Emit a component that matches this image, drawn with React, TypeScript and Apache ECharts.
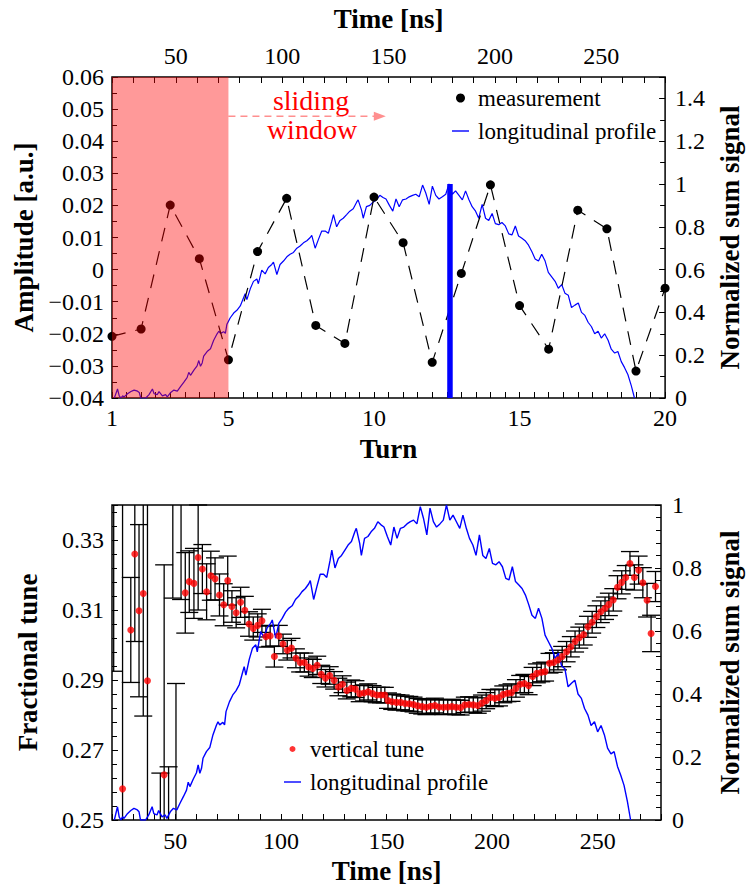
import React, { useEffect, useRef } from 'react';
import * as echarts from 'echarts';

// ---------- top panel data ----------
const TURNS = [1, 2, 3, 4, 5, 6, 7, 8, 9, 10, 11, 12, 13, 14, 15, 16, 17, 18, 19, 20];
const AMPLITUDE = [
  -0.0208, -0.0185, 0.0201, 0.0034, -0.0281, 0.0056, 0.0222, -0.0174, -0.023, 0.0226,
  0.0084, -0.0289, -0.0012, 0.0264, -0.0112, -0.0248, 0.0185, 0.0127, -0.0316, -0.0058,
];
const TURN_LABELS = [1, 5, 10, 15, 20];
const WINDOW_TURNS = [1, 5];
const WINDOW_CENTER_TURN = 12.61;
const WINDOW_CENTER_HEIGHT = 1;
const ARROW_TURNS = [5, 10.2];
const ARROW_AMPLITUDE = 0.0478;

// ---------- longitudinal profile (time [ns], normalized sum signal) ----------
const PROFILE = [
  [21.1, 0], [22.6, 0.042], [23.4, 0.01], [24.2, 0], [25.0, 0.01], [25.7, 0.005], [27.3, 0.02],
  [28.9, 0.03], [30.4, 0.037], [32.0, 0.032], [32.8, 0.026], [33.5, 0], [35.9, 0], [37.4, 0.016],
  [39.0, 0.042], [39.8, 0.02], [41.3, 0.016], [42.1, 0.03], [43.7, 0.01], [45.2, 0.016], [46.0, 0.005],
  [47.6, 0.026], [49.1, 0.037], [50.7, 0.032], [52.2, 0.053], [53.8, 0.074], [55.3, 0.095], [56.1, 0.12],
  [56.9, 0.106], [58.5, 0.13], [60.0, 0.15], [60.8, 0.175], [61.6, 0.148], [62.4, 0.164], [63.1, 0.196],
  [64.7, 0.217], [66.3, 0.23], [67.8, 0.27], [69.4, 0.3], [70.2, 0.312], [71.0, 0.302], [72.5, 0.31],
  [73.3, 0.302], [74.0, 0.344], [75.6, 0.375], [77.2, 0.397], [78.7, 0.41], [80.3, 0.43], [81.9, 0.47],
  [82.6, 0.487], [83.4, 0.46], [85.0, 0.51], [86.5, 0.545], [88.1, 0.556], [88.8, 0.534], [90.4, 0.598],
  [92.0, 0.58], [93.5, 0.61], [95.1, 0.624], [95.9, 0.635], [97.5, 0.577], [99.0, 0.624], [100.6, 0.64],
  [102.2, 0.66], [103.7, 0.672], [105.3, 0.68], [106.9, 0.7], [108.4, 0.71], [110.0, 0.725], [111.6, 0.735],
  [113.2, 0.75], [113.9, 0.76], [115.5, 0.7], [117.0, 0.74], [118.6, 0.78], [120.2, 0.78], [121.7, 0.77],
  [123.3, 0.825], [124.1, 0.857], [125.6, 0.8], [127.2, 0.83], [128.7, 0.84], [130.3, 0.857], [131.8, 0.873],
  [133.4, 0.884], [135.0, 0.915], [135.7, 0.926], [137.3, 0.878], [138.1, 0.84], [139.6, 0.894], [141.2, 0.9],
  [142.7, 0.915], [144.3, 0.926], [145.9, 0.947], [147.4, 0.937], [148.8, 0.93], [150.4, 0.9], [152.0, 0.873],
  [153.5, 0.93], [155.0, 0.894], [156.6, 0.926], [158.2, 0.93], [159.7, 0.94], [161.3, 0.947], [162.8, 0.952],
  [164.4, 0.94], [166.0, 0.995], [167.5, 0.958], [169.1, 0.905], [170.6, 0.99], [172.2, 0.947], [173.7, 0.93],
  [175.3, 0.94], [176.9, 0.952], [178.4, 1.0], [180.0, 0.952], [181.5, 0.968], [183.1, 0.947], [184.7, 0.926],
  [186.2, 0.968], [187.8, 0.926], [189.3, 0.894], [190.9, 0.873], [192.4, 0.84], [194.0, 0.905], [195.6, 0.84],
  [197.1, 0.83], [198.7, 0.862], [200.2, 0.815], [201.8, 0.81], [203.3, 0.82], [204.9, 0.804], [206.5, 0.767],
  [208.0, 0.762], [209.6, 0.804], [211.1, 0.757], [212.7, 0.746], [214.2, 0.735], [215.8, 0.714], [217.4, 0.683],
  [218.9, 0.65], [220.5, 0.64], [222.0, 0.672], [223.6, 0.64], [225.1, 0.587], [226.7, 0.566], [228.3, 0.545],
  [229.8, 0.513], [231.4, 0.53], [232.9, 0.49], [234.5, 0.48], [236.0, 0.423], [237.6, 0.434], [239.2, 0.444],
  [240.7, 0.4], [242.3, 0.386], [243.8, 0.354], [245.4, 0.333], [246.9, 0.3], [248.5, 0.312], [250.0, 0.28],
  [251.6, 0.3], [253.2, 0.27], [254.7, 0.228], [256.3, 0.21], [257.8, 0.217], [259.4, 0.17], [260.9, 0.143],
  [262.5, 0.11], [264.1, 0.058], [265.6, 0],
];

// ---------- vertical tune (time [ns], tune, error) ----------
const TUNE = [
  [20.8, 0.345, 0.0525], [25.0, 0.2589, 0.09], [28.9, 0.3043, 0.015], [30.8, 0.326, 0.025],
  [32.8, 0.3098, 0.0246], [34.8, 0.3147, 0.035], [36.8, 0.2898, 0.07], [42.9, 0.245, 0.0184],
  [44.7, 0.2629, 0.06], [46.8, 0.245, 0.0202], [48.8, 0.36, 0.0466], [50.3, 0.24, 0.049],
  [52.7, 0.36, 0.047],
  [54.7, 0.3149, 0.0115], [56.6, 0.3181, 0.0088], [58.8, 0.3176, 0.01], [60.8, 0.325, 0.015],
  [62.8, 0.3217, 0.007], [64.8, 0.3152, 0.008], [66.8, 0.3198, 0.007], [68.8, 0.3189, 0.006],
  [70.9, 0.3143, 0.006], [72.9, 0.3115, 0.006], [74.8, 0.3184, 0.007], [76.8, 0.311, 0.0045],
  [78.8, 0.3092, 0.0043], [80.9, 0.3122, 0.0043], [82.9, 0.3099, 0.004], [84.9, 0.306, 0.0035],
  [86.9, 0.3047, 0.0033], [89.0, 0.3056, 0.0033], [91.0, 0.3069, 0.0033], [92.9, 0.3024, 0.003],
  [94.9, 0.3026, 0.003], [96.9, 0.2967, 0.003], [99.0, 0.3026, 0.003], [101.0, 0.3003, 0.0028],
  [103.0, 0.2985, 0.0028], [105.0, 0.2991, 0.0028], [107.1, 0.2962, 0.0027], [109.1, 0.295, 0.0027],
  [111.1, 0.295, 0.0027], [113.1, 0.2937, 0.0026], [115.1, 0.2933, 0.0026], [117.2, 0.2942, 0.0026],
  [119.1, 0.2916, 0.0026], [121.1, 0.2905, 0.0025], [123.1, 0.2913, 0.0025], [125.2, 0.2899, 0.0025],
  [127.2, 0.288, 0.0025], [129.2, 0.2888, 0.0024], [131.2, 0.287, 0.0024], [133.3, 0.2876, 0.0024],
  [135.3, 0.2874, 0.0024], [137.3, 0.2861, 0.0023], [139.3, 0.2863, 0.0023], [141.3, 0.2866, 0.0023],
  [143.4, 0.2861, 0.0023], [145.4, 0.2857, 0.0022], [147.4, 0.2857, 0.0022], [149.2, 0.2857, 0.0022],
  [150.7, 0.2841, 0.0022], [152.7, 0.2838, 0.0022], [154.7, 0.2836, 0.0022], [156.7, 0.2836, 0.0021],
  [158.8, 0.2833, 0.0021], [160.8, 0.2832, 0.0021], [162.8, 0.283, 0.0021], [164.8, 0.2826, 0.0021],
  [166.9, 0.2824, 0.0021], [168.9, 0.2822, 0.0021], [170.9, 0.2825, 0.0021], [172.9, 0.2827, 0.0021],
  [174.9, 0.2823, 0.0021], [177.0, 0.2822, 0.0021], [179.0, 0.2823, 0.0021], [181.0, 0.2824, 0.0021],
  [183.0, 0.2822, 0.0021], [185.1, 0.2821, 0.0021], [187.1, 0.2829, 0.0022], [189.1, 0.283, 0.0022],
  [191.1, 0.2829, 0.0022], [193.2, 0.2827, 0.0022], [195.2, 0.2834, 0.0023], [197.2, 0.2841, 0.0023],
  [199.2, 0.285, 0.0023], [201.3, 0.2848, 0.0024], [203.3, 0.285, 0.0024], [205.3, 0.2859, 0.0024],
  [207.3, 0.2862, 0.0024], [209.2, 0.2864, 0.0025], [211.3, 0.2876, 0.0025], [213.3, 0.2888, 0.0025],
  [215.3, 0.289, 0.0026], [217.3, 0.2884, 0.0026], [219.2, 0.291, 0.0026], [221.2, 0.2919, 0.0027],
  [223.3, 0.2922, 0.0027], [225.1, 0.2924, 0.0027], [227.2, 0.2948, 0.0028], [229.2, 0.295, 0.0028],
  [231.2, 0.2957, 0.0028], [233.2, 0.2967, 0.0029], [235.3, 0.2981, 0.0029], [237.3, 0.2995, 0.0029],
  [239.3, 0.301, 0.003], [241.3, 0.3021, 0.003], [243.4, 0.303, 0.003], [245.4, 0.3052, 0.003],
  [247.4, 0.3065, 0.0031], [249.4, 0.3081, 0.0031], [251.5, 0.3095, 0.0031], [253.5, 0.3105, 0.0032],
  [255.3, 0.3116, 0.0032], [257.4, 0.3129, 0.0032], [259.4, 0.3165, 0.0033], [261.4, 0.3179, 0.0033],
  [263.3, 0.3193, 0.0034], [265.3, 0.3233, 0.0034], [267.4, 0.3193, 0.0036], [269.4, 0.3214, 0.004],
  [271.4, 0.3178, 0.0043], [273.4, 0.3128, 0.0048], [275.3, 0.3033, 0.0052], [277.4, 0.3167, 0.0043],
];

const SERIF = 'Liberation Serif';
const TICK_FONT = 24;
const TITLE_FONT = 27;
const LEGEND_FONT = 23;
const LINE_ICON = 'path://M0,0H17V1.4H0Z';

const fmtAmp = (v: number) => {
  if (Math.abs(v) < 1e-9) return '0';
  const s = Math.abs(v).toFixed(2);
  return v < 0 ? '\u2212' + s : s;
};
const fmtShort = (v: number) => String(parseFloat(v.toFixed(2)));
const tickStyle = { color: '#000', width: 1 };

const axisCommon = (labelMargin: number) => ({
  type: 'value' as const,
  axisLine: { show: false, onZero: false },
  splitLine: { show: false },
  axisTick: { show: true, inside: true, length: 6, lineStyle: tickStyle },
  minorTick: { show: false },
  axisLabel: { color: '#000', fontFamily: SERIF, fontSize: TICK_FONT, margin: labelMargin },
  nameTextStyle: { color: '#000', fontFamily: SERIF, fontSize: TITLE_FONT, fontWeight: 'bold' as const },
  nameLocation: 'middle' as const,
});

export default function App() {
  const ref = useRef<HTMLDivElement>(null);

  useEffect(() => {
    document.body.style.margin = '0';
    if (!ref.current) return;
    const chart = echarts.init(ref.current, null, { renderer: 'svg' });

    const option: any = {
      animation: false,
      backgroundColor: '#fff',
      grid: [
        { left: 112, top: 77, width: 570, height: 321, show: true, borderColor: '#000', borderWidth: 1.5, backgroundColor: 'transparent' },
        { left: 112, top: 505, width: 557, height: 315, show: true, borderColor: '#000', borderWidth: 1.5, backgroundColor: 'transparent' },
      ],
      xAxis: [
        {
          ...axisCommon(8), gridIndex: 0, position: 'bottom', min: 1, max: 20, interval: 1,
          minorTick: { show: true, splitNumber: 2, length: 6, lineStyle: tickStyle },
          axisLabel: { ...axisCommon(8).axisLabel, formatter: (v: number) => (TURN_LABELS.includes(Math.round(v * 1000) / 1000) ? String(v) : '') },
          name: 'Turn', nameGap: 37,
        },
        {
          ...axisCommon(9), gridIndex: 0, position: 'top', min: 20, max: 280, interval: 10,
          axisLabel: { ...axisCommon(9).axisLabel, formatter: (v: number) => (Math.round(v) % 50 === 0 ? String(Math.round(v)) : '') },
          name: 'Time [ns]', nameGap: 45,
        },
        {
          ...axisCommon(9), gridIndex: 1, position: 'bottom', min: 20, max: 280, interval: 10,
          axisLabel: { ...axisCommon(9).axisLabel, formatter: (v: number) => (Math.round(v) % 50 === 0 ? String(Math.round(v)) : '') },
          name: 'Time [ns]', nameGap: 37,
        },
      ],
      yAxis: [
        {
          ...axisCommon(8), gridIndex: 0, position: 'left', min: -0.04, max: 0.06, interval: 0.01,
          minorTick: { show: true, splitNumber: 2, length: 5, lineStyle: tickStyle },
          axisLabel: { ...axisCommon(8).axisLabel, formatter: fmtAmp },
          name: 'Amplitude [a.u.]', nameGap: 71, nameRotate: 90,
        },
        {
          ...axisCommon(10), gridIndex: 0, position: 'right', min: 0, max: 1.5, interval: 0.2,
          minorTick: { show: true, splitNumber: 2, length: 5, lineStyle: tickStyle },
          axisLabel: { ...axisCommon(10).axisLabel, formatter: fmtShort, showMaxLabel: false },
          name: 'Normalized sum signal', nameGap: 42, nameRotate: 90,
        },
        {
          ...axisCommon(8), gridIndex: 1, position: 'left', min: 0.25, max: 0.34, interval: 0.02,
          minorTick: { show: true, splitNumber: 5, length: 5, lineStyle: tickStyle },
          axisLabel: { ...axisCommon(8).axisLabel, formatter: (v: number) => v.toFixed(2), showMaxLabel: false },
          name: 'Fractional tune', nameGap: 71, nameRotate: 90,
        },
        {
          ...axisCommon(11), gridIndex: 1, position: 'right', min: 0, max: 1, interval: 0.2,
          minorTick: { show: true, splitNumber: 5, length: 5, lineStyle: tickStyle },
          axisLabel: { ...axisCommon(11).axisLabel, formatter: fmtShort },
          name: 'Normalized sum signal', nameGap: 55, nameRotate: 90,
        },
      ],
      legend: [
        {
          left: 452, top: 86.5, orient: 'vertical', padding: 0, itemGap: 10, itemWidth: 17, itemHeight: 9,
          symbolKeepAspect: true,
          data: [{ name: 'measurement', icon: 'circle' }, { name: 'longitudinal profile', icon: LINE_ICON }],
          textStyle: { color: '#000', fontFamily: SERIF, fontSize: LEGEND_FONT, padding: [0, 0, 0, 4] },
          selectedMode: false,
        },
        {
          left: 284, top: 737.5, orient: 'vertical', padding: 0, itemGap: 10, itemWidth: 17, itemHeight: 6,
          symbolKeepAspect: true,
          data: [{ name: 'vertical tune', icon: 'circle' }, { name: 'longitudinal profile', icon: LINE_ICON }],
          textStyle: { color: '#000', fontFamily: SERIF, fontSize: LEGEND_FONT, padding: [0, 0, 0, 4] },
          selectedMode: false,
        },
      ],
      graphic: [
        { type: 'text', x: 311, y: 100, z: 20, style: { text: 'sliding', font: `28px "${SERIF}"`, fill: '#ff0000', align: 'center', verticalAlign: 'middle' } },
        { type: 'text', x: 312, y: 129, z: 20, style: { text: 'window', font: `28px "${SERIF}"`, fill: '#ff0000', align: 'center', verticalAlign: 'middle' } },
      ],
      series: [
        // top: longitudinal profile on time axis
        {
          name: 'longitudinal profile', type: 'line', xAxisIndex: 1, yAxisIndex: 1,
          data: PROFILE, symbol: 'none', z: 2,
          lineStyle: { color: '#0000ff', width: 1.2 }, itemStyle: { color: '#0000ff' },
        },
        // top: measurement
        {
          name: 'measurement', type: 'line', xAxisIndex: 0, yAxisIndex: 0,
          data: TURNS.map((t, i) => [t, AMPLITUDE[i]]),
          symbol: 'circle', symbolSize: 9, showSymbol: true, z: 3,
          itemStyle: { color: '#000' },
          lineStyle: { color: '#000', width: 1.2, type: [14, 10] },
        },
        // top: sliding-window arrow
        {
          type: 'line', xAxisIndex: 0, yAxisIndex: 0, z: 5, silent: true,
          data: ARROW_TURNS.map((t) => [t, ARROW_AMPLITUDE]),
          symbol: 'none',
          lineStyle: { color: '#ff8f8f', width: 1.5, type: [7, 5] },
          markPoint: {
            silent: true,
            symbol: 'triangle', symbolSize: [9, 12], symbolRotate: -90,
            itemStyle: { color: '#ff8f8f' },
            label: { show: false },
            data: [{ coord: [ARROW_TURNS[1], ARROW_AMPLITUDE] }],
          },
        },
        // top: window centre marker
        {
          type: 'line', xAxisIndex: 0, yAxisIndex: 1, symbol: 'none', z: 4,
          data: [[WINDOW_CENTER_TURN, 0], [WINDOW_CENTER_TURN, WINDOW_CENTER_HEIGHT]],
          lineStyle: { color: '#0000ff', width: 5.5 },
        },
        // top: sliding-window shading (drawn over the data, translucent)
        {
          type: 'custom', xAxisIndex: 0, yAxisIndex: 0, z: 10, silent: true,
          data: [[WINDOW_TURNS[0], WINDOW_TURNS[1]]],
          renderItem: (params: any, api: any) => {
            const cs = params.coordSys;
            const p1 = api.coord([api.value(0), 0]);
            const p2 = api.coord([api.value(1), 0]);
            return {
              type: 'rect',
              shape: { x: p1[0], y: cs.y, width: p2[0] - p1[0], height: cs.height },
              style: { fill: 'rgba(255,0,0,0.4)' },
            };
          },
        },
        // bottom: error bars
        {
          type: 'custom', xAxisIndex: 2, yAxisIndex: 2, z: 2, silent: true,
          data: TUNE.map((d) => [d[0], d[1] - d[2], d[1] + d[2]]),
          encode: { x: 0, y: [1, 2] },
          renderItem: (params: any, api: any) => {
            const cs = params.coordSys;
            const top = cs.y, bottom = cs.y + cs.height, left = cs.x, right = cs.x + cs.width;
            const pLo = api.coord([api.value(0), api.value(1)]);
            const pHi = api.coord([api.value(0), api.value(2)]);
            if (pHi[1] > bottom || pLo[1] < top) return null;
            const x = pLo[0];
            const y1 = Math.max(pHi[1], top);
            const y2 = Math.min(pLo[1], bottom);
            const st = { stroke: '#000', lineWidth: 1.3 };
            const half = 9;
            const children: any[] = [
              { type: 'line', shape: { x1: x, y1, x2: x, y2 }, style: st },
            ];
            const cx1 = Math.max(x - half, left), cx2 = Math.min(x + half, right);
            if (pHi[1] >= top) children.push({ type: 'line', shape: { x1: cx1, y1: pHi[1], x2: cx2, y2: pHi[1] }, style: st });
            if (pLo[1] <= bottom) children.push({ type: 'line', shape: { x1: cx1, y1: pLo[1], x2: cx2, y2: pLo[1] }, style: st });
            return { type: 'group', children };
          },
        },
        // bottom: longitudinal profile
        {
          name: 'longitudinal profile', type: 'line', xAxisIndex: 2, yAxisIndex: 3,
          data: PROFILE, symbol: 'none', z: 3,
          lineStyle: { color: '#0000ff', width: 1.4 }, itemStyle: { color: '#0000ff' },
        },
        // bottom: vertical tune
        {
          name: 'vertical tune', type: 'scatter', xAxisIndex: 2, yAxisIndex: 2, z: 4,
          data: TUNE.map((d) => [d[0], d[1]]),
          symbol: 'circle', symbolSize: 7, clip: true,
          itemStyle: { color: '#ff0000' },
        },
      ],
    };

    chart.setOption(option);
    return () => chart.dispose();
  }, []);

  return <div ref={ref} style={{ width: 751, height: 886 }} />;
}
